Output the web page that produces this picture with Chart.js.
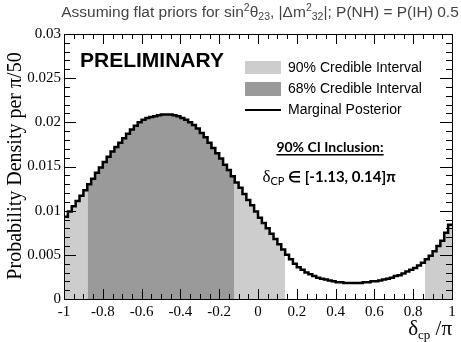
<!DOCTYPE html>
<html>
<head>
<meta charset="utf-8">
<script src="https://cdn.jsdelivr.net/npm/chart.js@4.4.0/dist/chart.umd.min.js"></script>
<style>
html, body { margin: 0; padding: 0; background: #fff; }
#wrap { width: 461px; height: 342px; }
</style>
</head>
<body>
<div id="wrap"><canvas id="chart" width="461" height="342"></canvas></div>
<script>
// histogram of delta_cp / pi, 100 bins of width 0.02 from -1 to 1
const binLow = -1;
const binWidth = 0.02;
const density = [
    0.0093, 0.0099, 0.0105, 0.0111, 0.0117, 0.0123, 0.0130, 0.0136, 0.0143, 0.0149,
    0.0155, 0.0161, 0.0167, 0.0172, 0.0177, 0.0182, 0.0187, 0.0192, 0.0196, 0.0200,
    0.0203, 0.0205, 0.0206, 0.0207, 0.0208, 0.0209, 0.0209, 0.0209, 0.0208, 0.0207,
    0.0205, 0.0203, 0.0200, 0.0197, 0.0193, 0.0188, 0.0183, 0.0177, 0.0171, 0.0165,
    0.0159, 0.0152, 0.0146, 0.0139, 0.0132, 0.0126, 0.0119, 0.0112, 0.0106, 0.0099,
    0.0092, 0.0086, 0.0080, 0.0074, 0.0068, 0.0062, 0.0056, 0.0050, 0.0045, 0.0040,
    0.0036, 0.0033, 0.0030, 0.0028, 0.0026, 0.0024, 0.0023, 0.0022, 0.0021, 0.0020,
    0.0019, 0.0019, 0.0018, 0.0018, 0.0018, 0.0018, 0.0018, 0.0019, 0.0019, 0.0020,
    0.0020, 0.0021, 0.0022, 0.0023, 0.0024, 0.0026, 0.0027, 0.0029, 0.0031, 0.0033,
    0.0035, 0.0038, 0.0041, 0.0045, 0.0049, 0.0054, 0.0060, 0.0066, 0.0075, 0.0084
];

// credible intervals (in units of pi)
const ci90 = [[-1, -0.88], [-0.12, 0.14], [0.86, 1]];
const ci68 = [[-0.88, -0.12]];

const legendLabels = ['90% Credible Interval', '68% Credible Interval', 'Marginal Posterior'];
const ciText = '90% CI Inclusion:';
const ciRange = ' \u2208 [-1.13, 0.14]\u03c0';

const light = '#cdcdcd';
const dark = '#9a9a9a';

// points at left bin edges + closing point at upper edge
function stepPoints(lo, hi) {
    const pts = [];
    let last = null;
    for (let i = 0; i < density.length; i++) {
        const edge = binLow + i * binWidth;
        if (edge >= lo - 1e-6 && edge < hi - 1e-6) {
            pts.push({ x: edge, y: density[i] });
            last = density[i];
        }
    }
    pts.push({ x: hi, y: last });
    return pts;
}

function bandSet(range, color) {
    return {
        data: stepPoints(range[0], range[1]),
        stepped: true,
        borderWidth: 0,
        borderColor: 'rgba(0,0,0,0)',
        backgroundColor: color,
        fill: 'origin',
        pointRadius: 0,
        order: 2
    };
}

const datasets = [{
    label: legendLabels[2],
    data: stepPoints(-1, 1),
    stepped: true,
    borderColor: '#000',
    borderWidth: 2.5,
    fill: false,
    pointRadius: 0,
    order: 0
}];
ci90.forEach(r => datasets.push(bandSet(r, light)));
ci68.forEach(r => datasets.push(bandSet(r, dark)));

function richText(ctx, runs, x, y, align) {
    let w = 0;
    runs.forEach(r => { ctx.font = r.font; w += ctx.measureText(r.t).width; });
    let cx = align === 'center' ? x - w / 2 : (align === 'right' ? x - w : x);
    runs.forEach(r => {
        ctx.font = r.font;
        ctx.fillText(r.t, cx, y + (r.dy || 0));
        cx += ctx.measureText(r.t).width;
    });
    return w;
}

const decorations = {
    id: 'decorations',
    afterDatasetsDraw(chart) {
        const ctx = chart.ctx;
        const a = chart.chartArea;
        const xs = chart.scales.x, ys = chart.scales.y;
        ctx.save();
        ctx.strokeStyle = '#000';
        ctx.lineWidth = 1;
        ctx.beginPath();
        // y ticks, left and right, pointing inward
        for (let k = 0; k <= 30; k++) {
            const py = Math.round(ys.getPixelForValue(k / 1000)) + 0.5;
            const len = k % 5 === 0 ? 12 : 6;
            ctx.moveTo(a.left, py); ctx.lineTo(a.left + len, py);
            ctx.moveTo(a.right, py); ctx.lineTo(a.right - len, py);
        }
        // x ticks, bottom and top
        for (let k = 0; k <= 40; k++) {
            const px = Math.round(xs.getPixelForValue(-1 + k * 0.05)) + 0.5;
            const len = k % 4 === 0 ? 10 : 5;
            ctx.moveTo(px, a.bottom); ctx.lineTo(px, a.bottom - len);
            ctx.moveTo(px, a.top); ctx.lineTo(px, a.top + len);
        }
        ctx.stroke();
        ctx.strokeRect(Math.round(a.left) + 0.5, Math.round(a.top) + 0.5,
            Math.round(a.right - a.left), Math.round(a.bottom - a.top));
        ctx.restore();
    },
    afterDraw(chart) {
        const ctx = chart.ctx;
        ctx.save();
        ctx.textBaseline = 'alphabetic';

        // title
        ctx.fillStyle = '#444';
        const n = '15.5px "Liberation Sans", Arial, sans-serif';
        const s = '10.5px "Liberation Sans", Arial, sans-serif';
        richText(ctx, [
            { t: 'Assuming flat priors for sin', font: n },
            { t: '2', font: s, dy: -6 },
            { t: '\u03b8', font: n },
            { t: '23', font: s, dy: 3 },
            { t: ', |\u0394m', font: n },
            { t: '2', font: s, dy: -6 },
            { t: '32', font: s, dy: 3 },
            { t: '|; P(NH) = P(IH) 0.5', font: n }
        ], 260, 17, 'center');

        // axis titles
        ctx.fillStyle = '#000';
        ctx.save();
        ctx.translate(21, 166);
        ctx.rotate(-Math.PI / 2);
        ctx.font = '20px "Liberation Serif", "Times New Roman", serif';
        ctx.textAlign = 'center';
        ctx.fillText('Probability Density per \u03c0/50', 0, 0);
        ctx.restore();

        const big = '21px "Liberation Serif", "Times New Roman", serif';
        richText(ctx, [
            { t: '\u03b4', font: big },
            { t: 'cp', font: '13px "Liberation Serif", serif', dy: 4 },
            { t: ' /\u03c0', font: big }
        ], 452, 335, 'right');

        // PRELIMINARY
        ctx.font = 'bold 21px "Liberation Sans", Arial, sans-serif';
        ctx.fillText('PRELIMINARY', 80, 67);

        // legend
        ctx.fillStyle = light;
        ctx.fillRect(245, 61, 36, 13);
        ctx.fillStyle = dark;
        ctx.fillRect(245, 82, 36, 14);
        ctx.strokeStyle = '#000';
        ctx.lineWidth = 2;
        ctx.beginPath();
        ctx.moveTo(245, 110); ctx.lineTo(281, 110);
        ctx.stroke();
        ctx.fillStyle = '#000';
        ctx.font = '14px "Liberation Sans", Arial, sans-serif';
        ctx.textBaseline = 'middle';
        ctx.fillText(legendLabels[0], 288, 68);
        ctx.fillText(legendLabels[1], 288, 89);
        ctx.fillText(legendLabels[2], 288, 110);
        ctx.textBaseline = 'alphabetic';

        // CI annotation
        ctx.font = 'bold 14px Lato, "Open Sans", sans-serif';
        ctx.textAlign = 'center';
        ctx.fillText(ciText, 330, 152);
        const uw = ctx.measureText(ciText).width;
        ctx.fillRect(330 - uw / 2, 154, uw, 1.5);
        ctx.textAlign = 'left';
        richText(ctx, [
            { t: '\u03b4', font: '17px "Liberation Serif", serif' },
            { t: 'CP', font: '11px Lato, sans-serif', dy: 3 },
            { t: ciRange, font: 'bold 15px Lato, "Open Sans", sans-serif' }
        ], 329, 182, 'center');
        ctx.restore();
    }
};

const tickFont = { family: '"Liberation Serif", "Times New Roman", serif', size: 15 };

new Chart(document.getElementById('chart'), {
    type: 'line',
    data: { datasets: datasets },
    options: {
        responsive: false,
        animation: false,
        events: [],
        layout: { padding: { left: 0, right: 9, top: 34, bottom: 0 } },
        plugins: { legend: { display: false }, tooltip: { enabled: false } },
        scales: {
            x: {
                type: 'linear',
                min: -1,
                max: 1,
                grid: { display: false, drawTicks: false },
                border: { display: false },
                ticks: {
                    stepSize: 0.2,
                    color: '#000',
                    font: tickFont,
                    padding: 4,
                    maxRotation: 0,
                    callback: v => String(Math.round(v * 10) / 10)
                },
                afterFit: scale => { scale.height = 43; }
            },
            y: {
                min: 0,
                max: 0.03,
                grid: { display: false, drawTicks: false },
                border: { display: false },
                ticks: {
                    stepSize: 0.005,
                    color: '#000',
                    font: tickFont,
                    padding: 3,
                    callback: v => String(Math.round(v * 1000) / 1000)
                },
                afterFit: scale => { scale.width = 64; }
            }
        }
    },
    plugins: [decorations]
});
</script>
</body>
</html>
